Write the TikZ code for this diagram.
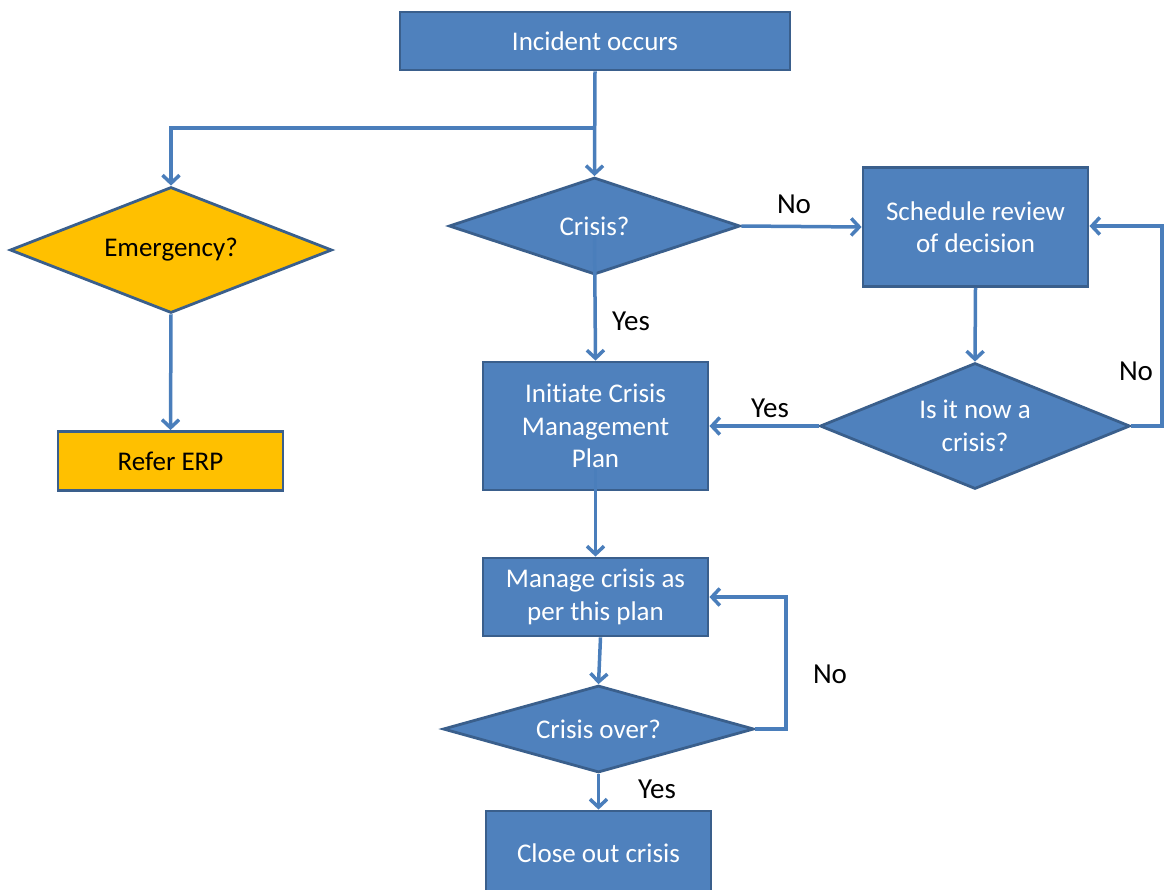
\documentclass[tikz,border=0pt]{standalone}
\usepackage{fontspec}
\setmainfont{Carlito}[Ligatures=NoCommon]
\usetikzlibrary{shapes.geometric,arrows.meta}
\definecolor{boxfill}{HTML}{4F81BD}
\definecolor{boxline}{HTML}{3A5F8C}
\definecolor{wire}{HTML}{4A7EBB}
\definecolor{warnfill}{HTML}{FFC000}
\tikzset{
  every node/.style={font=\fontsize{27}{32.5}\selectfont},
  stepbox/.style={rectangle, draw=boxline, line width=2.8pt, fill=boxfill,
    text=white, align=center, inner sep=0pt},
  decision/.style={diamond, draw=boxline, line width=2.8pt, fill=boxfill,
    text=white, align=center, inner sep=0pt, shape aspect=2.5},
  warnbox/.style={stepbox, fill=warnfill, text=black},
  warndecision/.style={decision, fill=warnfill, text=black},
  flow/.style={draw=wire, line width=3.5pt,
    -{Straight Barb[length=8pt,width=17pt]}},
  tag/.style={text=black, inner sep=0pt, font=\fontsize{29}{34}\selectfont}
}
\begin{document}
\begin{tikzpicture}[x=1pt,y=-1pt]
\useasboundingbox (0,0) rectangle (1164,889);

% boxes and decisions
\node[stepbox, minimum width=390, minimum height=58] (incident) at (595,41) {Incident occurs};
\node[warndecision, minimum width=322, minimum height=126] (emergency) at (171,250) {Emergency?};
\node[warnbox, minimum width=225, minimum height=59] (erp) at (170.5,461) {Refer ERP};
\node[decision, minimum width=291, minimum height=97] (crisis) at (594.5,226) {Crisis?};
\node[stepbox, minimum width=225, minimum height=119] (review) at (975.5,227) {Schedule review\\of decision};
\node[stepbox, minimum width=225, minimum height=128] (initiate) at (595.5,426) {Initiate Crisis\\Management\\Plan};
\node[decision, minimum width=310, minimum height=126] (nowcrisis) at (975,426) {Is it now a\\crisis?};
\node[stepbox, minimum width=225, minimum height=78] (manage) at (595.5,597) {Manage crisis as\\per this plan};
\node[decision, minimum width=311, minimum height=87] (over) at (598.5,729) {Crisis over?};
\node[stepbox, minimum width=225, minimum height=84] (close) at (598.5,853) {Close out crisis};

% connectors
\coordinate (split) at (incident.south |- 0,128);
\coordinate (leftturn) at (emergency.north |- 0,128);
\draw[flow] (incident.south) -- (crisis.north);
\draw[flow] (split) -- (leftturn) -- (emergency.north);
\draw[flow] (emergency.south) -- (erp.north);
\draw[flow] (crisis.east) -- (review.west);
\draw[flow] ([yshift=-9pt]crisis.center) -- (initiate.north);
\draw[flow] (review.south) -- (nowcrisis.north);
\draw[flow] (nowcrisis.west) -- (initiate.east);
\coordinate (loopA) at (1162,426);
\coordinate (loopB) at (1162,226);
\draw[flow] (nowcrisis.east) -- (loopA) -- (loopB) -- (review.east |- loopB);
\draw[flow] ([yshift=-42pt]initiate.center) -- (manage.north);
\draw[flow] ([xshift=5pt]manage.south) -- (over.north);
\coordinate (loopC) at (786,729);
\coordinate (loopD) at (786,597);
\draw[flow] (over.east) -- (loopC) -- (loopD) -- (manage.east);
\draw[flow] (over.south) -- (close.north);

% branch labels
\node[tag] (noA) at (794,204) {No};
\node[tag] (yesA) at (631,321) {Yes};
\node[tag] (yesB) at (770,408) {Yes};
\node[tag] (noB) at (1136,371) {No};
\node[tag] (noC) at (830,674) {No};
\node[tag] (yesC) at (657,789) {Yes};
\end{tikzpicture}
\end{document}
